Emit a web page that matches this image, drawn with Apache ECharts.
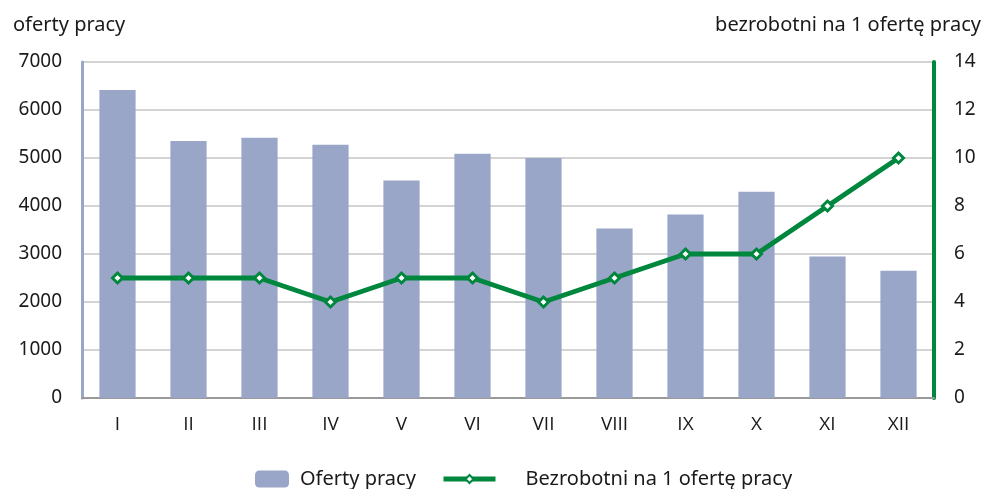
<!DOCTYPE html>
<html>
<head>
<meta charset="utf-8">
<script src="https://cdn.jsdelivr.net/npm/echarts@6/dist/echarts.min.js"></script>
<style>
  html, body { margin: 0; padding: 0; background: #fff; }
  #chart { width: 990px; height: 489px; }
</style>
</head>
<body>
<div id="chart"></div>
<script>
// miesiące
var months = ["I", "II", "III", "IV", "V", "VI", "VII", "VIII", "IX", "X", "XI", "XII"];
// oferty pracy (lewa oś)
var offers = [6415, 5355, 5420, 5275, 4530, 5090, 5000, 3530, 3825, 4295, 2950, 2650];
// bezrobotni na 1 ofertę pracy (prawa oś)
var perOffer = [5, 5, 5, 4, 5, 5, 4, 5, 6, 6, 8, 10];

var barColor = "#99a6c8";
var lineColor = "#00873e";
var font = "Noto Sans";
var txt = "#1a1a1a";

var myChart = echarts.init(document.getElementById("chart"));
myChart.setOption({
  animation: false,
  textStyle: { fontFamily: font },
  title: [
    {
      text: "oferty pracy",
      left: 8,
      top: 10,
      textStyle: { fontFamily: font, fontSize: 20, fontWeight: "normal", color: txt }
    },
    {
      text: "bezrobotni na 1 ofertę pracy",
      right: 4,
      top: 10,
      textStyle: { fontFamily: font, fontSize: 20, fontWeight: "normal", color: txt }
    }
  ],
  grid: { left: 82, right: 56, top: 62, bottom: 91, containLabel: false },
  legend: [
    {
      data: ["Oferty pracy"],
      left: 250,
      top: 464,
      itemWidth: 34,
      itemHeight: 17,
      textStyle: { fontFamily: font, fontSize: 20, color: txt, padding: [0, 0, 0, 6] }
    },
    {
      data: ["Bezrobotni na 1 ofertę pracy"],
      left: 436,
      top: 464,
      itemWidth: 52,
      itemHeight: 10,
      lineStyle: { width: 5 },
      textStyle: { fontFamily: font, fontSize: 20, color: txt, padding: [0, 0, 0, 25] }
    }
  ],
  xAxis: {
    type: "category",
    data: months,
    axisLine: { lineStyle: { color: "#999", width: 2 } },
    axisTick: { show: false },
    axisLabel: { fontFamily: "Open Sans", fontSize: 19, color: txt, margin: 17 }
  },
  yAxis: [
    {
      type: "value",
      min: 0,
      max: 7000,
      interval: 1000,
      axisLine: { show: true, lineStyle: { color: barColor, width: 3 } },
      axisTick: { show: false },
      axisLabel: {
        fontFamily: font, fontSize: 19, color: txt, margin: 20,
        formatter: function (v) { return String(v); }
      },
      splitLine: { lineStyle: { color: "#c4c4c4", width: 1.5 } }
    },
    {
      type: "value",
      min: 0,
      max: 14,
      interval: 2,
      axisLine: { show: true, lineStyle: { color: lineColor, width: 4 } },
      axisTick: { show: false },
      axisLabel: { fontFamily: font, fontSize: 19, color: txt, margin: 20 },
      splitLine: { show: false }
    }
  ],
  series: [
    {
      name: "Oferty pracy",
      type: "bar",
      data: offers,
      barWidth: "51%",
      itemStyle: { color: barColor }
    },
    {
      name: "Bezrobotni na 1 ofertę pracy",
      type: "line",
      yAxisIndex: 1,
      data: perOffer,
      symbol: "diamond",
      symbolSize: 10,
      lineStyle: { color: lineColor, width: 5 },
      itemStyle: { color: "#fff", borderColor: lineColor, borderWidth: 3 }
    }
  ]
});
</script>
</body>
</html>
